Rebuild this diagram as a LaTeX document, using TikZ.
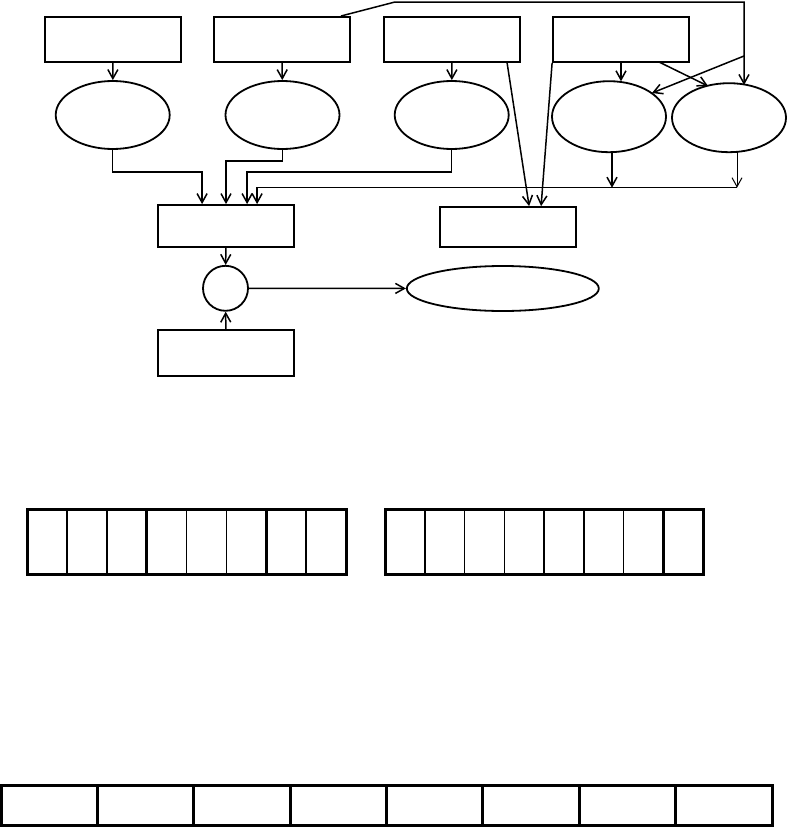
\documentclass[tikz,border=0pt]{standalone}
\usetikzlibrary{arrows.meta,shapes.geometric,calc}
\begin{document}
\begin{tikzpicture}[x=1pt,y=-1pt,
  box/.style={draw,line width=1.8pt,minimum width=136pt,minimum height=45pt,inner sep=0pt},
  oval/.style={draw,ellipse,line width=1.8pt,minimum width=114pt,minimum height=68pt,inner sep=0pt},
  conn/.style={line width=1.5pt,-{Straight Barb[length=9pt,width=10pt]}},
  thinconn/.style={line width=1pt,-{Straight Barb[length=9pt,width=10pt]}},
  reg/.style={line width=3pt}]
\useasboundingbox (0,0) rectangle (787,827);
% top boxes
\node[box] (b1) at (113,39.5) {};
\node[box] (b2) at (282,39.5) {};
\node[box] (b3) at (452,39.5) {};
\node[box] (b4) at (621,39.5) {};
% ellipses
\node[oval] (e1) at (112.7,115) {};
\node[oval] (e2) at (282.5,115) {};
\node[oval] (e3) at (451.7,115) {};
\node[oval,minimum height=71pt] (e4) at (609,116.7) {};
\node[oval,minimum height=69pt] (e5) at (729,117.7) {};
% middle
\node[box,minimum height=42pt] (m1) at (226,226) {};
\node[box,minimum height=40pt] (m2) at (508,227) {};
\node[draw,circle,line width=1.8pt,minimum size=45pt,inner sep=0pt] (c) at (225.5,288.3) {};
\node[oval,minimum width=192pt,minimum height=45pt] (out) at (502.8,288.5) {};
\node[box,minimum height=45.7pt] (m3) at (226,353) {};
% coordinates
\coordinate (t0) at (341,16);
\coordinate (t1) at (395,2);
\coordinate (t2) at (744,2);
\coordinate (t3) at (744,56);
\coordinate (e5in) at (744,85);
\coordinate (e4in) at (652,93);
\coordinate (b4out) at (659,62);
\coordinate (e5in2) at (708,86);
\coordinate (busR) at (737,187.7);
\coordinate (busM) at (563,187.7);
\coordinate (e5b) at (737,152);
% connectors top -> ellipses
\draw[conn] (b1) -- (e1);
\draw[conn] (b2) -- (e2);
\draw[conn] (b3) -- (e3);
\draw[conn] (b4.south) -- ($(e4.north -| b4.south)+(0,1)$);
% ellipses -> m1
\draw[conn] (e1.south) -- ++(0,22) -| ([xshift=45pt]m1.north west);
\draw[conn] (e2.south) -- ++(0,11) -| (m1.north);
\draw[conn] (e3.south) -- ++(0,22) -| ([xshift=90pt]m1.north west);
\draw[conn] (busM) -| ([xshift=100pt]m1.north west);
\draw[line width=1pt] (busM) -- (busR);
\draw[conn] ([xshift=3pt]e4.south) -- ([xshift=3pt]e4.south |- busR);
\draw[thinconn] (e5b) -- (busR);
% top wire
\draw[conn] (t0) -- (t1) -- (t2) -- (e5in);
\draw[conn] (t3) -- (e4in);
\draw[conn] (b4out) -- (e5in2);
% to m2
\draw[conn] ([xshift=124pt]b3.south west) -- ([xshift=90pt]m2.north west);
\draw[conn] (b4.south west) -- ([xshift=102pt]m2.north west);
% circle
\draw[conn] (m1) -- (c);
\draw[conn] (m3) -- (c);
\draw[conn] (c) -- (out);
% registers
\draw[reg] (27,509.5) rectangle (346,574.5);
\foreach \i/\w in {1/1.5,2/2.5,3/2.5,4/1.5,5/1.5,6/2.5,7/1.5}
  \draw[line width=\w pt] ({27+\i*39.875},509.5) -- ({27+\i*39.875},574.5);
\draw[reg] (385,509.5) rectangle (703,574.5);
\foreach \i/\w in {1/2.5,2/1.5,3/1.5,4/2.5,5/1.5,6/1.5,7/2.5}
  \draw[line width=\w pt] ({385+\i*39.75},509.5) -- ({385+\i*39.75},574.5);
\draw[reg] (1,785) rectangle (772,825);
\foreach \i in {1,...,7}
  \draw[reg] ({1+\i*96.375},785) -- ({1+\i*96.375},825);
\end{tikzpicture}
\end{document}
